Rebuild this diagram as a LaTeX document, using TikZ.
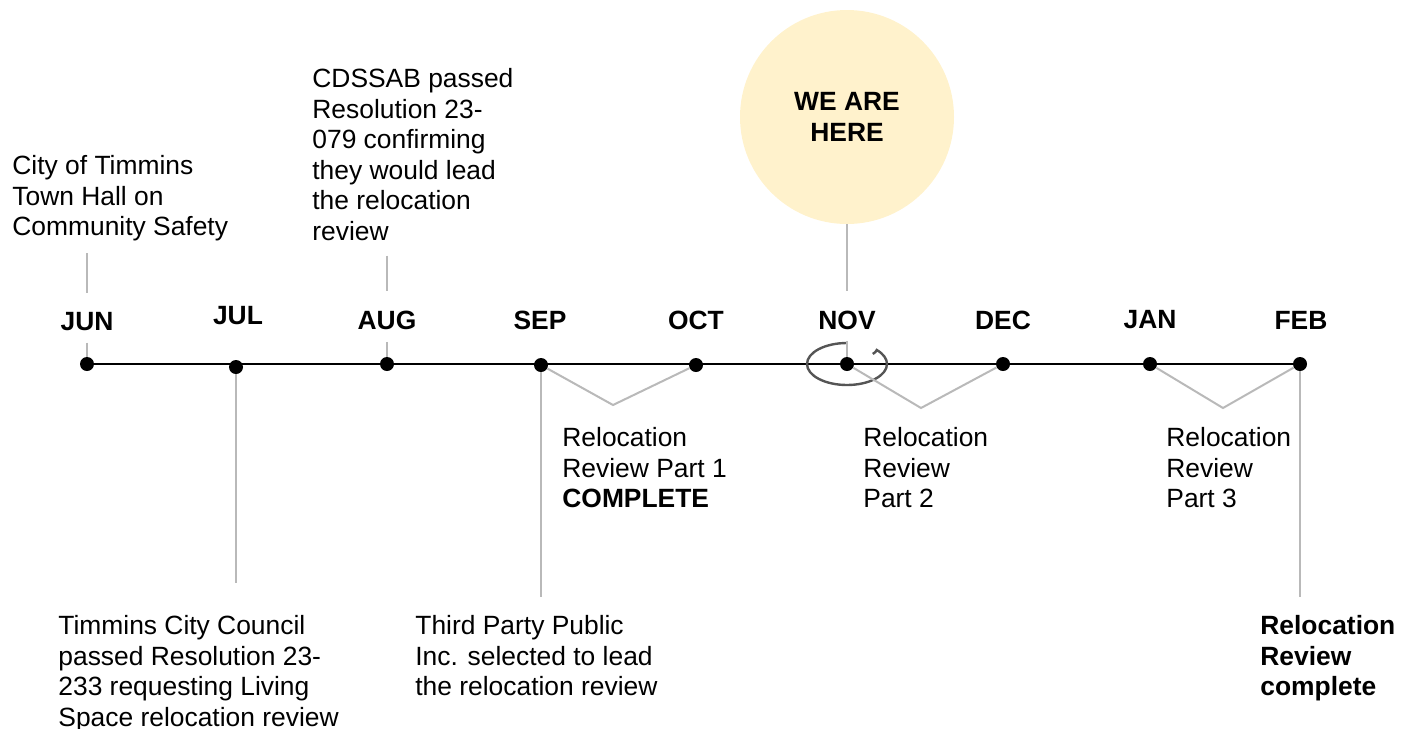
\documentclass[tikz,border=0pt]{standalone}
\usepackage{fontspec}
\setmainfont{Liberation Sans}
\definecolor{herefill}{RGB}{255,242,204}
\definecolor{guidegray}{RGB}{185,185,185}
\definecolor{sketchgray}{RGB}{85,85,85}

\begin{document}
\begin{tikzpicture}[x=0.5pt, y=-0.5pt, font=\fontsize{13.2}{15.25}\selectfont,
    tdot/.style={circle, fill=black, inner sep=0pt, minimum size=7pt},
    month/.style={font=\fontsize{13.2}{15.25}\selectfont\bfseries, inner sep=0pt},
    note/.style={anchor=north west, align=left, inner sep=0pt},
    guide/.style={draw=guidegray, line width=1pt}]
    \useasboundingbox (0,0) rectangle (1410,729);

    % Dots on the timeline
    \node[tdot] (jun) at (87,364) {};
    \node[tdot] (jul) at (236,367) {};
    \node[tdot] (aug) at (387,364) {};
    \node[tdot] (sep) at (541,365) {};
    \node[tdot] (oct) at (696,365) {};
    \node[tdot] (nov) at (847,364) {};
    \node[tdot] (dec) at (1003,364) {};
    \node[tdot] (jan) at (1150,364) {};
    \node[tdot] (feb) at (1300,364) {};
    \draw[line width=1pt] (jun.center) -- (feb.center);

    % Months
    \node[month] (mjun) at (87,322) {JUN};
    \node[month] (mjul) at (238,316) {JUL};
    \node[month] (maug) at (387,320) {AUG};
    \node[month] (msep) at (540,320) {SEP};
    \node[month] (moct) at (696,320) {OCT};
    \node[month] (mnov) at (847,320) {NOV};
    \node[month] (mdec) at (1003,320) {DEC};
    \node[month] (mjan) at (1150,320) {JAN};
    \node[month] (mfeb) at (1301,320) {FEB};

    % We are here
    \node[circle, fill=herefill, minimum size=107pt, inner sep=0pt, align=center,
          font=\fontsize{13.2}{15.25}\selectfont\bfseries] (here) at (847,117) {WE ARE\\HERE};
    \draw[sketchgray, line width=1.2pt] ([yshift=10.5pt]nov.center)
        arc[start angle=-90, end angle=-402, x radius=40, y radius=21]
        .. controls +(-1,2) .. +(-4,4);

    % Notes above
    \node[note] (town) at (12,155) {City of Timmins\\Town Hall on\\Community Safety};
    \node[note] (cdssab) at (312,68) {CDSSAB passed\\Resolution 23-\\079 confirming\\they would lead\\the relocation\\review};

    % Notes below
    \node[note] (part1) at (562,427) {Relocation\\Review Part 1\\\textbf{COMPLETE}};
    \node[note] (part2) at (863,427) {Relocation\\Review\\Part 2};
    \node[note] (part3) at (1166,427) {Relocation\\Review\\Part 3};
    \node[note] (council) at (58,615) {Timmins City Council\\passed Resolution 23-\\233 requesting Living\\Space relocation review};
    \node[note] (thirdparty) at (415,615) {Third Party Public\\Inc. selected to lead\\the relocation review};
    \node[note, font=\fontsize{13.2}{15.25}\selectfont\bfseries] (finalnote) at (1260,615) {Relocation\\Review\\complete};

    % Guide lines
    \draw[guide, shorten <=6pt, shorten >=9.5pt] (jun |- town.south) -- (mjun.north);
    \draw[guide, shorten <=5.5pt] (mjun.south) -- (jun);
    \draw[guide, shorten <=7.5pt, shorten >=9.5pt] (aug |- cdssab.south) -- (maug.north);
    \draw[guide, shorten <=6pt] (maug.south) -- (aug);
    \draw[guide, shorten >=9.5pt] (here) -- (mnov.north);
    \draw[guide, shorten <=5.5pt] (mnov.south) -- (nov);
    \draw[guide, shorten >=16pt] (jul) -- (jul |- council.north);
    \draw[guide, shorten >=9pt] (sep) -- (sep |- thirdparty.north);
    \draw[guide, shorten >=9pt] (feb) -- (feb |- finalnote.north);

    % Spans
    \draw[guide] (sep) -- ++(72,40) -- (oct);
    \draw[guide] (nov) -- ++(74,44) -- (dec);
    \draw[guide] (jan) -- ++(73,44) -- (feb);
\end{tikzpicture}
\end{document}
